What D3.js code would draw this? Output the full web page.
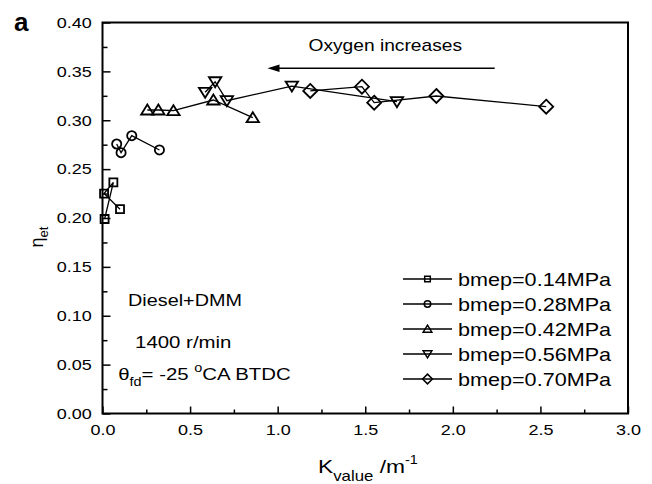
<!DOCTYPE html>
<html>
<head>
<meta charset="utf-8">
<script src="https://cdn.jsdelivr.net/npm/d3@7"></script>
<style>
body { margin: 0; background: #fff; }
svg { display: block; font-family: "Liberation Sans", Arial, sans-serif; }
</style>
</head>
<body>
<svg id="chart" width="652" height="484"></svg>
<script>
// tick values
var xTicks = [0, 0.5, 1.0, 1.5, 2.0, 2.5, 3.0];
var yTicks = [0, 0.05, 0.10, 0.15, 0.20, 0.25, 0.30, 0.35, 0.40];

// series names and markers
var seriesLabels = ["bmep=0.14MPa", "bmep=0.28MPa", "bmep=0.42MPa", "bmep=0.56MPa", "bmep=0.70MPa"];
var seriesShapes = ["square", "circle", "triangle", "triangleDown", "diamond"];

// K value (1/m) and effective thermal efficiency per series, in drawing order
var k014 = [0.100, 0.009, 0.062, 0.012];
var eta014 = [0.209, 0.225, 0.2365, 0.199];
var k028 = [0.081, 0.106, 0.167, 0.325];
var eta028 = [0.2757, 0.2668, 0.2842, 0.2696];
var k042 = [0.256, 0.319, 0.405, 0.633, 0.858];
var eta042 = [0.3105, 0.3105, 0.3098, 0.3207, 0.3026];
var k056 = [0.586, 0.643, 0.710, 1.081, 1.681];
var eta056 = [0.3286, 0.3394, 0.320, 0.335, 0.319];
var k070 = [1.186, 1.481, 1.551, 1.906, 2.533];
var eta070 = [0.330, 0.3343, 0.318, 0.3248, 0.3139];

var kAll = [k014, k028, k042, k056, k070];
var etaAll = [eta014, eta028, eta042, eta056, eta070];

var svg = d3.select("#chart");
var plotLeft = 102.5, plotRight = 628, plotTop = 22.5, plotBottom = 413.5;
var sx = 1.2; // text in the figure is stretched horizontally

var x = d3.scaleLinear().domain([0, 3.0]).range([plotLeft, plotRight]);
var y = d3.scaleLinear().domain([0, 0.40]).range([plotBottom, plotTop]);

// marker shapes, s = scale
function markerPath(shape, s) {
	if (shape == "square") { var h = 4 * s; return "M" + (-h) + "," + (-h) + "h" + 2 * h + "v" + 2 * h + "h" + (-2 * h) + "Z"; }
	if (shape == "circle") { var r = 4.6 * s; return "M" + r + ",0A" + r + "," + r + " 0 1 1 " + (-r) + ",0A" + r + "," + r + " 0 1 1 " + r + ",0Z"; }
	if (shape == "triangle") return "M0," + (-5.5 * s) + "L" + 6.2 * s + "," + 4.5 * s + "L" + (-6.2 * s) + "," + 4.5 * s + "Z";
	if (shape == "triangleDown") return "M0," + 5.5 * s + "L" + 6.2 * s + "," + (-4.5 * s) + "L" + (-6.2 * s) + "," + (-4.5 * s) + "Z";
	return "M0," + (-7 * s) + "L" + 7 * s + ",0L0," + 7 * s + "L" + (-7 * s) + ",0Z";
}

// minor ticks
svg.append("g")
	.attr("transform", "translate(0," + plotBottom + ")")
	.call(d3.axisBottom(x).tickValues(d3.range(0.25, 3.0, 0.5)).tickSize(-4).tickSizeOuter(0).tickFormat(""))
	.call(function (g) { g.select(".domain").remove(); });
svg.append("g")
	.attr("transform", "translate(" + plotLeft + ",0)")
	.call(d3.axisLeft(y).tickValues(d3.range(0.025, 0.40, 0.05)).tickSize(-5).tickSizeOuter(0).tickFormat(""))
	.call(function (g) { g.select(".domain").remove(); });

// major ticks and labels
var xAxis = svg.append("g")
	.attr("transform", "translate(0," + plotBottom + ")")
	.call(d3.axisBottom(x).tickValues(xTicks).tickSize(-7).tickSizeOuter(0).tickPadding(11).tickFormat(d3.format(".1f")));
var yAxis = svg.append("g")
	.attr("transform", "translate(" + plotLeft + ",0)")
	.call(d3.axisLeft(y).tickValues(yTicks).tickSize(-8).tickSizeOuter(0).tickPadding(9).tickFormat(d3.format(".2f")));
[xAxis, yAxis].forEach(function (g) {
	g.select(".domain").remove();
	g.attr("font-family", null).attr("font-size", null);
	g.selectAll("text").style("font-size", "15px").attr("fill", "#000")
		.attr("transform", "scale(" + sx + ",1)");
});
svg.selectAll(".tick line").attr("stroke", "#000").attr("stroke-width", 1.5);

// frame
svg.append("rect")
	.attr("x", plotLeft).attr("y", plotTop)
	.attr("width", plotRight - plotLeft).attr("height", plotBottom - plotTop)
	.attr("fill", "none").attr("stroke", "#000").attr("stroke-width", 2);

// series lines and markers
var line = d3.line().x(function (d) { return x(d.k); }).y(function (d) { return y(d.eta); });
seriesLabels.forEach(function (label, i) {
	var pts = kAll[i].map(function (k, j) { return { k: k, eta: etaAll[i][j] }; });
	svg.append("path").datum(pts)
		.attr("d", line)
		.attr("fill", "none").attr("stroke", "#000").attr("stroke-width", 1.3);
	svg.selectAll(".m" + i).data(pts).enter().append("path")
		.attr("class", "m" + i)
		.attr("transform", function (d) { return "translate(" + x(d.k) + "," + y(d.eta) + ")"; })
		.attr("d", markerPath(seriesShapes[i], 1))
		.attr("fill", "none").attr("stroke", "#000").attr("stroke-width", 1.8);
});

// helper for stretched text
function addText(px, py, size) {
	return svg.append("text")
		.attr("transform", "translate(" + px + "," + py + ") scale(" + sx + ",1)")
		.style("font-size", size + "px").attr("fill", "#000");
}

// legend
var legY = 279, legStep = 25;
seriesLabels.forEach(function (label, i) {
	var ly = legY + i * legStep;
	svg.append("line").attr("x1", 403).attr("x2", 452).attr("y1", ly).attr("y2", ly)
		.attr("stroke", "#000").attr("stroke-width", 1.3);
	svg.append("path").attr("transform", "translate(427.5," + ly + ")")
		.attr("d", markerPath(seriesShapes[i], 0.7))
		.attr("fill", "none").attr("stroke", "#000").attr("stroke-width", 1.5);
	addText(458, ly + 6.5, 18).text(label);
});

// annotations
var arrowFrom = 2.239, arrowTo = 0.942, arrowEta = 0.3532;
svg.append("line")
	.attr("x1", x(arrowFrom)).attr("x2", x(arrowTo) + 8)
	.attr("y1", y(arrowEta)).attr("y2", y(arrowEta))
	.attr("stroke", "#000").attr("stroke-width", 1.5);
svg.append("path")
	.attr("transform", "translate(" + x(arrowTo) + "," + y(arrowEta) + ")")
	.attr("d", "M0,0L12,-3.8L12,3.8Z").attr("fill", "#000");
addText(x(1.176), y(0.3708), 16).text("Oxygen increases");

addText(x(0.146), y(0.110), 16.5).text("Diesel+DMM");
addText(x(0.186), y(0.067), 17).text("1400 r/min");
var th = addText(x(0.090), y(0.0343), 17);
th.append("tspan").text("\u03b8");
th.append("tspan").attr("dy", 6).style("font-size", "12px").text("fd");
th.append("tspan").attr("dy", -6).text("= -25 ");
th.append("tspan").attr("dy", -8).style("font-size", "12px").text("o");
th.append("tspan").attr("dy", 8).text("CA BTDC");

// axis titles
var xt = addText(318, 473, 19);
xt.append("tspan").text("K");
xt.append("tspan").attr("dy", 8).style("font-size", "14px").text("value");
xt.append("tspan").attr("dy", -8).text("  /m");
xt.append("tspan").attr("dy", -9).style("font-size", "12px").text("-1");

var yt = svg.append("text")
	.attr("transform", "translate(43,237) rotate(-90)")
	.attr("text-anchor", "middle").style("font-size", "18px");
yt.append("tspan").text("\u03b7");
yt.append("tspan").attr("dy", 5).style("font-size", "13px").text("et");

// panel label
svg.append("text").attr("x", 14).attr("y", 31)
	.style("font-size", "26px").style("font-weight", "bold").text("a");
</script>
</body>
</html>
